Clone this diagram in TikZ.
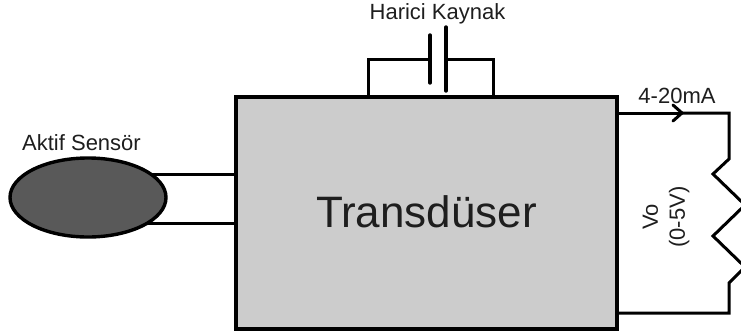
\documentclass[tikz,border=0pt]{standalone}
\usepackage{xcolor}
\usepackage{fontspec}
\setmainfont{Liberation Sans}
\usetikzlibrary{shapes.geometric,arrows.meta,positioning,backgrounds,calc}
\definecolor{boxgray}{RGB}{204,204,204}
\definecolor{sensorgray}{RGB}{89,89,89}
\definecolor{lblgray}{RGB}{30,30,30}
\tikzset{
  mainbox/.style ={rectangle, draw=black, line width=3.4pt, fill=boxgray, inner sep=0pt,
                   minimum width=381pt, minimum height=232pt, text=lblgray,
                   font=\fontsize{44}{48}\selectfont},
  sensor/.style  ={ellipse, draw=black, line width=3.4pt, fill=sensorgray, inner sep=0pt,
                   minimum width=156pt, minimum height=79pt},
  wire/.style    ={draw=black, line width=3pt, line join=miter},
  plate/.style   ={draw=black, line width=3.4pt, line cap=round},
  lbl/.style     ={font=\fontsize{22}{27}\selectfont, text=lblgray, inner sep=0pt, align=center}
}
\begin{document}
\begin{tikzpicture}[x=1pt,y=-1pt]
\useasboundingbox (0,0) rectangle (741,335);
\node[mainbox] (transducer) at (426.5,213) {\raisebox{3pt}{Transdüser}};
\node[sensor] (aktif) at (88,197.5) {};
\node[lbl] (aktiflbl) at (81.5,143) {Aktif Sensör};
% sensor leads
\begin{scope}[on background layer]
\draw[wire] ($(aktif.center)+(0,-23.5)$) coordinate (leadA) -- (leadA -| transducer.west);
\draw[wire] ($(aktif.center)+(0,25.5)$) coordinate (leadB) -- (leadB -| transducer.west);
\end{scope}
% external source
\coordinate (capA) at (430,59);
\coordinate (capB) at (446,59);
\draw[plate] (430,35) coordinate (plateAtop) -- (430,83) coordinate (plateAbot);
\draw[plate] (446,27) coordinate (plateBtop) -- (446,91) coordinate (plateBbot);
\draw[wire] (capA) -- (368,59) coordinate (capL) -- (capL |- transducer.north);
\draw[wire] (capB) -- (493,59) coordinate (capR) -- (capR |- transducer.north);
\node[lbl] (harici) at (437.5,14) {Harici Kaynak};
% output loop
\coordinate (iout) at (617,113);
\coordinate (itip) at (682,113);
\coordinate (rtop) at (729,113);
\coordinate (rbot) at (729,313);
\draw[wire] (iout) -- (itip);
\draw[wire, line cap=round, line join=round] (673,105) coordinate (barbA) -- (itip) -- (673,121) coordinate (barbB);
\draw[wire] (itip) -- (rtop) -- (729,159) -- (713,174) -- (745,205) -- (713,236)
  -- (745,267) -- (729,283) -- (rbot) -- (rbot -| transducer.east);
\node[lbl] (ilbl) at (677,96) {4-20mA};
\node[lbl, rotate=90] (vo) at (666,217) {Vo\\(0-5V)};
\end{tikzpicture}
\end{document}
